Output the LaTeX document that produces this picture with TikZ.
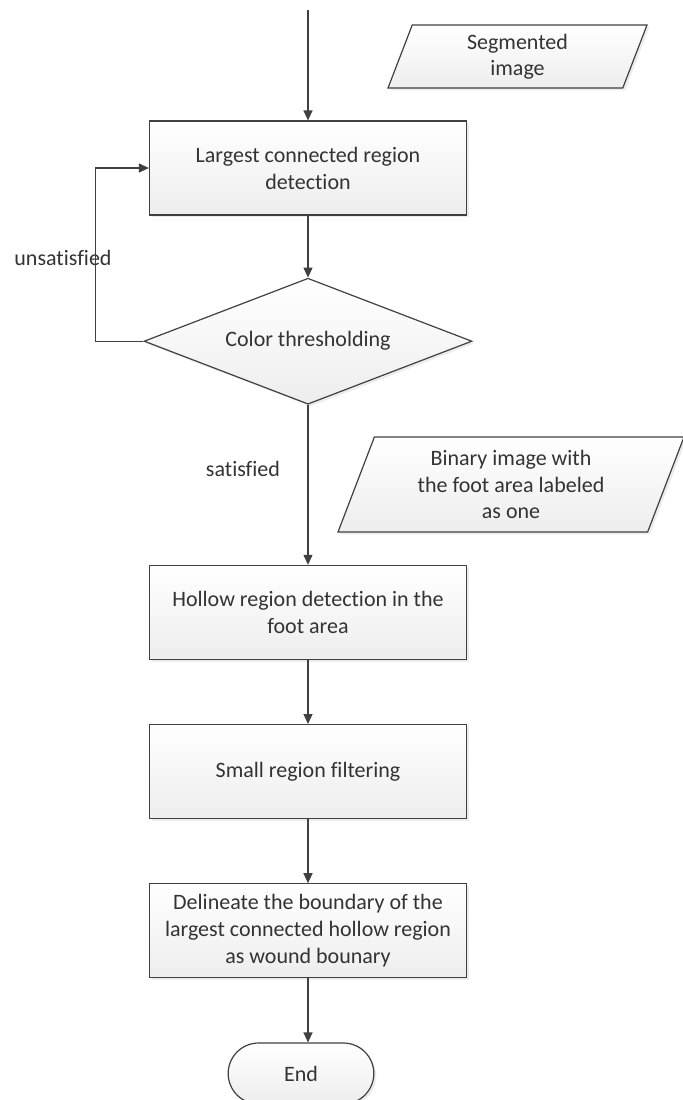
\documentclass[tikz,border=0pt]{standalone}
\usepackage{fontspec}
\setmainfont{Carlito}[Ligatures=NoCommon]
\usetikzlibrary{arrows.meta,positioning,shapes.geometric,shapes.misc,shadows}
\definecolor{linegray}{HTML}{404040}
\definecolor{textgray}{HTML}{333333}

\begin{document}
\begin{tikzpicture}[
    x=0.5pt, y=-0.5pt,
    node distance=32pt,
    box/.style={draw=linegray, line width=0.6pt, align=center, minimum height=47pt, minimum width=158.5pt, top color=white, bottom color=gray!14, text=textgray, font=\fontsize{11}{13.5}\selectfont, drop shadow={shadow xshift=1.2pt, shadow yshift=-1.2pt, opacity=0.15}},
    decision/.style={diamond, aspect=2.6, draw=linegray, line width=0.6pt, align=center, inner sep=0pt, minimum width=164pt, minimum height=63pt, top color=white, bottom color=gray!14, text=textgray, font=\fontsize{11}{13.5}\selectfont, drop shadow={shadow xshift=1.2pt, shadow yshift=-1.2pt, opacity=0.15}},
    databox/.style={trapezium, trapezium left angle=62, trapezium right angle=118, trapezium stretches body=true, draw=linegray, line width=0.6pt, align=center, inner xsep=2pt, inner ysep=0pt, top color=white, bottom color=gray!14, text=textgray, font=\fontsize{11}{13.25}\selectfont, drop shadow={shadow xshift=1.2pt, shadow yshift=-1.2pt, opacity=0.15}},
    endbox/.style={rounded rectangle, draw=linegray, line width=0.6pt, minimum width=79.5pt, minimum height=30.5pt, top color=white, bottom color=gray!14, text=textgray, font=\fontsize{11}{13.5}\selectfont, drop shadow={shadow xshift=1.2pt, shadow yshift=-1.2pt, opacity=0.15}},
    lbl/.style={text=textgray, inner sep=0pt, font=\fontsize{11}{13.5}\selectfont},
    arrow/.style={-{Triangle[length=5pt, width=4.5pt]}, draw=linegray, line width=0.6pt}
  ]
    \useasboundingbox (0,0) rectangle (683,1100);

    \coordinate (start) at (308,10);
    \node[box] (detect) at (308,168) {Largest connected region\\detection};
    \node[decision, below=31pt of detect] (thresh) {Color thresholding};
    \node[box, below=80pt of thresh] (hollow) {Hollow region detection in the\\foot area};
    \node[box, below=of hollow] (filter) {Small region filtering};
    \node[box, below=of filter] (outline) {Delineate the boundary of the\\largest connected hollow region\\as wound bounary};
    \node[endbox, below=of outline, xshift=-3.5pt] (finish) {End};

    \node[databox, minimum width=129.5pt, minimum height=31.5pt] (segimg) at (517.5,56.5) {Segmented\\image};
    \node[databox, minimum width=173pt, minimum height=47.5pt] (binimg) at (511,484.5) {Binary image with\\the foot area labeled\\as one};

    \node[lbl] (unsat) at (63,258) {unsatisfied};
    \node[lbl] (sat) at (243,469) {satisfied};

    \draw[arrow] (start) -- (detect);
    \draw[arrow] (detect) -- (thresh);
    \draw[arrow] (thresh.west) -- ++(-48,0) |- (detect.west);
    \draw[arrow] (thresh) -- (hollow);
    \draw[arrow] (hollow) -- (filter);
    \draw[arrow] (filter) -- (outline);
    \draw[arrow] (outline.south) -- (outline.south |- finish.north);
  \end{tikzpicture}
\end{document}
